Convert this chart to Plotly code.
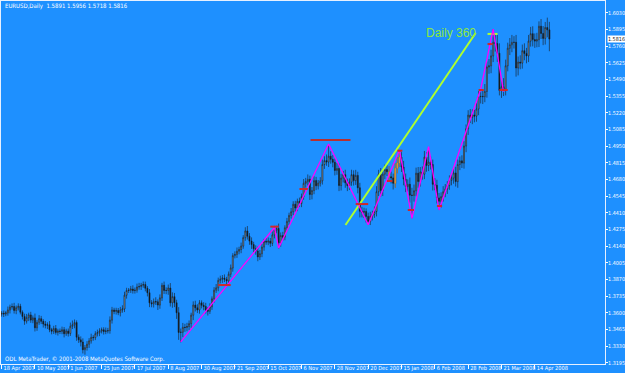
import pandas as pd
import plotly.graph_objects as go

# ---------------- data ----------------
holidays = ["2007-12-25", "2008-01-01"]
dates = [d for d in pd.bdate_range("2007-04-18", "2008-04-23")
         if d.strftime("%Y-%m-%d") not in holidays]

first_open = 1.3588
closes = [
    1.3595, 1.3590, 1.3598, 1.3622, 1.3645, 1.3650, 1.3618, 1.3640, 1.3652, 1.3604, 1.3570, 1.3532, 1.3560, 1.3582, 1.3540, 1.3558,
    1.3478, 1.3522, 1.3552, 1.3530, 1.3508, 1.3498, 1.3502, 1.3462, 1.3450, 1.3472, 1.3440, 1.3452, 1.3448, 1.3462, 1.3430, 1.3452,
    1.3432, 1.3490, 1.3502, 1.3520, 1.3402, 1.3380, 1.3362, 1.3300, 1.3318, 1.3345, 1.3372, 1.3400, 1.3398, 1.3430, 1.3438, 1.3452,
    1.3462, 1.3448, 1.3452, 1.3455, 1.3540, 1.3622, 1.3610, 1.3618, 1.3600, 1.3622, 1.3630, 1.3742, 1.3780, 1.3782, 1.3792, 1.3780,
    1.3782, 1.3808, 1.3812, 1.3822, 1.3828, 1.3798, 1.3762, 1.3680, 1.3672, 1.3690, 1.3688, 1.3662, 1.3720, 1.3822, 1.3780, 1.3780,
    1.3800, 1.3680, 1.3730, 1.3680, 1.3600, 1.3440, 1.3442, 1.3482, 1.3480, 1.3488, 1.3512, 1.3580, 1.3662, 1.3640, 1.3622, 1.3680,
    1.3660, 1.3650, 1.3622, 1.3612, 1.3648, 1.3712, 1.3782, 1.3802, 1.3862, 1.3872, 1.3880, 1.3870, 1.3858, 1.3912, 1.3962, 1.4062,
    1.4072, 1.4098, 1.4112, 1.4140, 1.4208, 1.4262, 1.4220, 1.4180, 1.4152, 1.4118, 1.4100, 1.4052, 1.4078, 1.4132, 1.4178, 1.4172,
    1.4180, 1.4162, 1.4230, 1.4268, 1.4282, 1.4165, 1.4225, 1.4212, 1.4288, 1.4340, 1.4388, 1.4418, 1.4478, 1.4448, 1.4502, 1.4485,
    1.4540, 1.4648, 1.4662, 1.4680, 1.4558, 1.4590, 1.4670, 1.4628, 1.4650, 1.4668, 1.4800, 1.4832, 1.4820, 1.4868, 1.4842, 1.4818,
    1.4752, 1.4768, 1.4630, 1.4690, 1.4718, 1.4652, 1.4630, 1.4658, 1.4718, 1.4670, 1.4712, 1.4612, 1.4422, 1.4412, 1.4420, 1.4380,
    1.4338, 1.4382, 1.4398, 1.4420, 1.4580, 1.4722, 1.4590, 1.4722, 1.4760, 1.4742, 1.4702, 1.4692, 1.4648, 1.4770, 1.4812, 1.4860,
    1.4780, 1.4682, 1.4622, 1.4640, 1.4552, 1.4550, 1.4588, 1.4730, 1.4662, 1.4740, 1.4722, 1.4860, 1.4792, 1.4820, 1.4800, 1.4640,
    1.4632, 1.4530, 1.4502, 1.4540, 1.4580, 1.4602, 1.4630, 1.4672, 1.4690, 1.4732, 1.4662, 1.4800, 1.4830, 1.4812, 1.4950, 1.5090,
    1.5200, 1.5182, 1.5202, 1.5192, 1.5250, 1.5350, 1.5352, 1.5350, 1.5392, 1.5590, 1.5600, 1.5680, 1.5790, 1.5780, 1.5702, 1.5400,
    1.5430, 1.5410, 1.5600, 1.5742, 1.5770, 1.5790, 1.5790, 1.5582, 1.5630, 1.5622, 1.5722, 1.5700, 1.5680, 1.5800, 1.5860, 1.5812,
    1.5800, 1.5812, 1.5920, 1.5862, 1.5822, 1.5910, 1.5891, 1.5816,
]
# upper / lower shadow lengths in pips
hi_wick = [
    18, 22, 15, 28, 20, 25, 30, 18, 24, 20, 15, 22, 30, 18, 25, 20,
    35, 20, 28, 22, 18, 25, 20, 30, 15, 22, 28, 18, 20, 25, 22, 18,
    20, 30, 35, 25, 18, 22, 28, 30, 20, 25, 22, 30, 18, 20, 25, 22,
    18, 20, 28, 22, 30, 25, 18, 22, 20, 25, 30, 28, 22, 18, 25, 30,
    22, 28, 30, 20, 25, 24, 18, 30, 22, 25, 35, 20, 28, 20, 30, 25,
    28, 40, 35, 30, 25, 45, 30, 35, 28, 30, 25, 20, 30, 35, 28, 22,
    20, 25, 30, 22, 28, 20, 25, 30, 22, 28, 25, 30, 20, 22, 28, 20,
    25, 30, 22, 28, 20, 30, 40, 25, 30, 22, 28, 35, 30, 25, 20, 28,
    30, 25, 28, 35, 22, 40, 25, 30, 20, 28, 22, 30, 25, 28, 22, 30,
    25, 35, 30, 40, 30, 28, 35, 30, 25, 30, 40, 35, 50, 98, 40, 35,
    30, 45, 40, 35, 30, 40, 35, 30, 40, 35, 45, 30, 40, 35, 30, 25,
    30, 35, 28, 40, 45, 35, 50, 30, 40, 35, 45, 40, 35, 40, 45, 58,
    40, 50, 45, 40, 55, 60, 50, 45, 50, 40, 45, 50, 40, 110, 45, 40,
    50, 45, 40, 35, 45, 40, 35, 40, 30, 45, 50, 40, 35, 45, 40, 35,
    40, 50, 45, 40, 50, 45, 40, 50, 60, 45, 55, 50, 107, 60, 70, 80,
    60, 70, 50, 45, 55, 60, 50, 60, 45, 55, 50, 60, 45, 50, 55, 60,
    50, 55, 40, 59, 60, 45, 80, 65,
]
lo_wick = [
    20, 25, 18, 22, 28, 20, 25, 30, 22, 18, 25, 30, 20, 28, 22, 25,
    30, 25, 20, 22, 28, 25, 30, 20, 25, 22, 18, 25, 20, 22, 30, 18,
    25, 20, 22, 28, 30, 25, 35, 30, 40, 25, 30, 22, 25, 20, 22, 28,
    20, 25, 22, 20, 25, 28, 22, 25, 20, 30, 22, 25, 28, 20, 22, 25,
    25, 20, 22, 28, 20, 25, 30, 35, 28, 30, 25, 40, 30, 25, 28, 30,
    35, 30, 40, 35, 50, 60, 80, 40, 35, 30, 28, 35, 40, 30, 25, 30,
    25, 30, 28, 35, 22, 25, 30, 22, 28, 25, 30, 22, 35, 28, 25, 30,
    22, 28, 25, 30, 22, 25, 28, 30, 35, 28, 30, 35, 25, 28, 30, 22,
    25, 30, 22, 28, 25, 45, 30, 28, 25, 22, 30, 25, 28, 30, 25, 28,
    30, 25, 35, 30, 45, 40, 30, 35, 30, 28, 30, 35, 30, 40, 35, 40,
    40, 35, 45, 40, 35, 40, 45, 35, 30, 40, 35, 45, 50, 40, 45, 50,
    25, 28, 35, 30, 40, 35, 50, 45, 40, 35, 40, 45, 50, 35, 40, 30,
    40, 50, 45, 40, 60, 185, 50, 45, 50, 40, 45, 40, 50, 45, 40, 50,
    40, 45, 70, 50, 40, 45, 40, 35, 40, 45, 40, 50, 45, 40, 45, 50,
    50, 45, 55, 50, 45, 50, 55, 60, 45, 50, 55, 60, 50, 65, 70, 40,
    60, 55, 50, 45, 55, 60, 50, 70, 60, 50, 45, 55, 60, 50, 45, 55,
    55, 50, 60, 45, 55, 50, 60, 98,
]
orange_bars = [186, 189, 190, 191]

# price-axis ticks
price_ticks = [1.3195 + 0.0135 * k for k in range(22)]
# zigzag swing points (bar index, price)
zz_idx = [86, 131, 133, 157, 176, 191, 197, 205, 210, 230, 236, 241]
zz_px = [1.3363, 1.4290, 1.4124, 1.4966, 1.4313, 1.4918, 1.4365, 1.4945, 1.4432, 1.5410, 1.5897, 1.5390]
# short red level marks (from bar, to bar, price)
rd_from = [104, 129, 143, 170, 195, 209, 229, 233.3, 239, 185, 190]
rd_to = [110, 133, 147, 176, 198, 211.5, 231.5, 235.7, 243, 187.6, 192.4]
rd_px = [1.3824, 1.4297, 1.4602, 1.4480, 1.4432, 1.4464, 1.5404, 1.5776, 1.5404, 1.4667, 1.4912]
# long dark-red level
dr_idx = [148.3, 167.5]
dr_px = [1.4998, 1.4998]
# "Daily 360" trend line and its dash
tl_idx = [165.1, 227.6]
tl_px = [1.4310, 1.5866]
gd_idx = [233.3, 238.1]
gd_px = [1.5858, 1.5858]
last_close = 1.5816
header = "EURUSD,Daily  1.5891 1.5956 1.5718 1.5816"
copyright_txt = "ODL MetaTrader, \u00a9 2001-2008 MetaQuotes Software Corp."

# ---------------- build ----------------
n = len(closes)
xs = list(range(n))
opens = [first_open] + closes[:-1]
highs = [max(o, c) + h / 10000 for o, c, h in zip(opens, closes, hi_wick)]
lows = [min(o, c) - l / 10000 for o, c, l in zip(opens, closes, lo_wick)]

BG = "#1E90FF"
FONT = "Liberation Sans Narrow, DejaVu Sans Condensed, Arial Narrow, Liberation Sans, sans-serif"

fig = go.Figure()

# objects drawn behind candles
fig.add_trace(go.Scatter(x=tl_idx, y=tl_px, mode="lines",
                         line=dict(color="#ADFF2F", width=2), hoverinfo="skip"))
fig.add_trace(go.Scatter(x=gd_idx, y=gd_px, mode="lines",
                         line=dict(color="#ADFF2F", width=2), hoverinfo="skip"))
fig.add_trace(go.Scatter(x=zz_idx, y=zz_px, mode="lines",
                         line=dict(color="#FF00FF", width=1.3), hoverinfo="skip"))
rx, ry = [], []
for a, b, p in zip(rd_from, rd_to, rd_px):
    rx += [a, b, None]
    ry += [p, p, None]
fig.add_trace(go.Scatter(x=rx, y=ry, mode="lines",
                         line=dict(color="#D02828", width=2), hoverinfo="skip"))
fig.add_trace(go.Scatter(x=dr_idx, y=dr_px, mode="lines",
                         line=dict(color="#B83030", width=2), hoverinfo="skip"))

fig.add_trace(go.Candlestick(
    x=xs, open=opens, high=highs, low=lows, close=closes,
    increasing=dict(line=dict(color="#1A1A1A", width=0.6), fillcolor="#AAAAAA"),
    decreasing=dict(line=dict(color="#1A1A1A", width=0.6), fillcolor="#141414"),
    whiskerwidth=0, hoverinfo="skip"))

fig.add_trace(go.Candlestick(
    x=orange_bars, open=[opens[i] for i in orange_bars], high=[highs[i] for i in orange_bars],
    low=[lows[i] for i in orange_bars], close=[closes[i] for i in orange_bars],
    increasing=dict(line=dict(color="#E8962A", width=0.6), fillcolor="#E8962A"),
    decreasing=dict(line=dict(color="#E8962A", width=0.6), fillcolor="#E8962A"),
    whiskerwidth=0, hoverinfo="skip"))

tick_idx = list(range(0, n, 16))
tick_txt = [f"{dates[i].day} {dates[i].strftime('%b %Y')}" for i in tick_idx]

fig.update_layout(
    width=625, height=373,
    margin=dict(l=1, r=20, t=1, b=9, pad=0),
    paper_bgcolor=BG, plot_bgcolor=BG,
    showlegend=False, template="none",
    font=dict(family=FONT, size=6, color="white"),
    xaxis=dict(
        range=[-0.3, 289.7], rangeslider=dict(visible=False),
        tickmode="array", tickvals=tick_idx, ticktext=tick_txt, tickangle=0,
        ticks="outside", ticklen=4, tickcolor="white", tickwidth=1,
        ticklabelposition="outside right", ticklabelstandoff=-2, ticklabelshift=1,
        tickfont=dict(family=FONT, size=5.6, color="white"),
        showgrid=False, zeroline=False, showline=True, mirror=True,
        linecolor="#E6F0FF", linewidth=1, automargin=False, fixedrange=True,
    ),
    yaxis=dict(
        side="right", range=[1.31845, 1.61248],
        tickmode="array", tickvals=price_ticks, ticktext=[f"{v:.4f}" for v in price_ticks],
        ticks="outside", ticklen=2, tickcolor="white", tickwidth=1,
        ticklabelstandoff=-1,
        tickfont=dict(family=FONT, size=5.4, color="white"),
        showgrid=False, zeroline=False, showline=True, mirror=True,
        linecolor="#E6F0FF", linewidth=1, automargin=False, fixedrange=True,
    ),
    annotations=[
        dict(text=header, xref="paper", yref="paper", x=0.003, y=0.986,
             xanchor="left", yanchor="middle", showarrow=False,
             font=dict(family=FONT, size=6, color="white")),
        dict(text=copyright_txt, xref="paper", yref="paper", x=0.003, y=0.014,
             xanchor="left", yanchor="middle", showarrow=False,
             font=dict(family=FONT, size=6, color="white")),
        dict(text="Daily 360", x=tl_idx[1] + 1, y=tl_px[1], xanchor="right", yanchor="middle",
             showarrow=False, font=dict(family="Liberation Sans, Arial, sans-serif", size=12, color="#8CE83C")),
        dict(text=f"{last_close:.4f}", xref="paper", x=1.0, xshift=2, y=last_close,
             xanchor="left", yanchor="middle", showarrow=False, bgcolor="white",
             borderpad=0, font=dict(family=FONT, size=5.4, color="#202020")),
    ],
)

fig.write_html("out.html")
